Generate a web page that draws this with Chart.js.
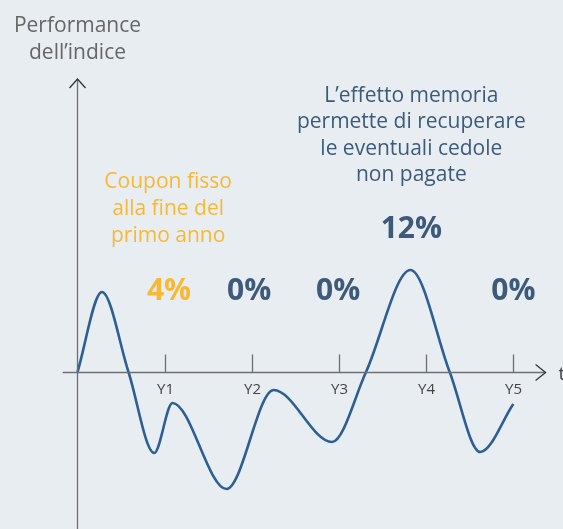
<!DOCTYPE html>
<html>
<head>
<meta charset="utf-8">
<script src="https://cdn.jsdelivr.net/npm/chart.js@4/dist/chart.umd.min.js"></script>
<style>
html,body{margin:0;padding:0;background:#e8edf2}
#wrap{position:relative;width:563px;height:529px}
</style>
</head>
<body>
<div id="wrap"><canvas id="c"></canvas></div>
<script>
// curve of the index (years, performance)
const curveX=[0,0.28,0.585,0.88,1.09,1.71,2.25,2.92,3.31,3.82,4.27,4.62,5.0];
const curveY=[0,8.0,0,-8.1,-3.1,-11.7,-1.8,-7.0,0,10.2,0,-8.0,-3.2];
const years=[1,2,3,4,5];
const yearLabels=['Y1','Y2','Y3','Y4','Y5'];
const coupons=['4%','0%','0%','12%','0%'];

const FONT='"Open Sans", sans-serif';
const DARK='#3d5a7a',ORANGE='#f8b833',AXIS='#6f6f6f';

const drawing={
  id:'drawing',
  afterDatasetsDraw(chart){
    const {ctx,scales:{x,y}}=chart;
    const X=v=>x.getPixelForValue(v),Y=v=>y.getPixelForValue(v);
    const x0=Math.round(X(0))+0.5,y0=Math.round(Y(0))+0.5;
    ctx.save();
    ctx.strokeStyle=AXIS;ctx.lineWidth=1.3;
    // axes
    ctx.beginPath();
    ctx.moveTo(X(-0.17),y0);ctx.lineTo(X(5.37),y0);
    ctx.moveTo(x0,Y(29.3));ctx.lineTo(x0,chart.height);
    ctx.stroke();
    // arrows
    const ax=X(5.37);
    ctx.strokeStyle='#333';
    ctx.beginPath();
    ctx.moveTo(ax-10,y0-8);ctx.lineTo(ax,y0);ctx.lineTo(ax-10,y0+8);
    const ay=Y(29.3);
    ctx.moveTo(x0-8,ay+9);ctx.lineTo(x0,ay);ctx.lineTo(x0+8,ay+9);
    ctx.stroke();
    // ticks
    ctx.strokeStyle=AXIS;
    ctx.font='15px '+FONT;ctx.fillStyle='#444';ctx.textAlign='center';ctx.textBaseline='alphabetic';
    years.forEach((v,i)=>{
      const px=Math.round(X(v))+0.5;
      ctx.beginPath();ctx.moveTo(px,y0-18);ctx.lineTo(px,y0);ctx.stroke();
      ctx.fillText(yearLabels[i],px,y0+21);
    });
    ctx.textAlign='left';ctx.font='19px '+FONT;
    ctx.fillText('t',X(5.37)+13,y0+7);
    // axis title
    ctx.textAlign='center';
    ctx.fillStyle='#666';ctx.font='21px '+FONT;
    ctx.fillText('Performance',x0,32);
    ctx.fillText('dell\u2019indice',x0,59);
    // notes
    ctx.fillStyle=ORANGE;
    ['Coupon fisso','alla fine del','primo anno'].forEach((t,i)=>ctx.fillText(t,X(1.04),188+i*27));
    ctx.fillStyle=DARK;
    ['L\u2019effetto memoria','permette di recuperare','le eventuali cedole','non pagate'].forEach((t,i)=>ctx.fillText(t,X(3.83),101.5+i*26.5));
    // coupons (slightly shifted from the tick like in the original artwork)
    const shift=[0.05,-0.03,-0.01,-0.17,0];
    ctx.font='bold 30px '+FONT;
    coupons.forEach((t,i)=>{
      ctx.fillStyle=i===0?ORANGE:DARK;
      const memo=t==='12%';
      ctx.fillText(t,X(years[i]+shift[i]),memo?238:300);
    });
    ctx.restore();
  }
};

new Chart(document.getElementById('c'),{
  type:'line',
  data:{datasets:[{
    data:curveX.map((v,i)=>({x:v,y:curveY[i]})),
    borderColor:'#2d5f95',borderWidth:2.6,pointRadius:0,
    cubicInterpolationMode:'monotone',fill:false
  }]},
  options:{
    responsive:true,maintainAspectRatio:false,animation:false,
    layout:{padding:0},
    plugins:{legend:{display:false},tooltip:{enabled:false}},
    scales:{
      x:{type:'linear',min:-0.889,max:5.57,display:false},
      y:{type:'linear',min:-15.7,max:37.2,display:false}
    }
  },
  plugins:[drawing]
});
</script>
</body>
</html>
